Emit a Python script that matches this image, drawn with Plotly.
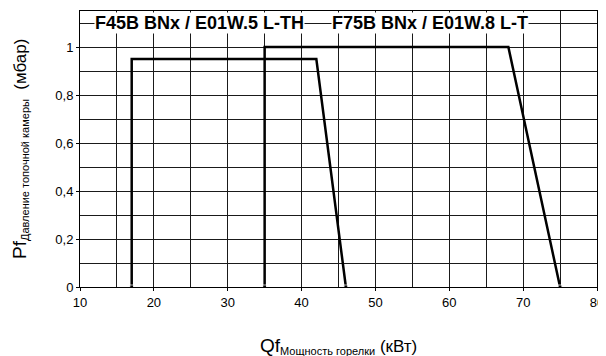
import plotly.graph_objects as go

# Data
s1_name = "F45B BNx / E01W.5 L-TH"
s1_x = [17, 17, 42, 46]
s1_y = [0, 0.95, 0.95, 0]
s2_name = "F75B BNx / E01W.8 L-T"
s2_x = [35, 35, 68, 75]
s2_y = [0, 1.0, 1.0, 0]

fig = go.Figure()
for xs, ys, nm in [(s1_x, s1_y, s1_name), (s2_x, s2_y, s2_name)]:
    fig.add_trace(go.Scatter(
        x=xs, y=ys, mode="lines+markers", name=nm,
        line=dict(color="black", width=2.5),
        marker=dict(symbol="square", color="black", size=[4, 0, 0, 4]),
        showlegend=False,
    ))

font = "Liberation Sans, Arial, sans-serif"
grid = "#1a1a1a"
fig.update_layout(
    width=598, height=348,
    margin=dict(l=72, r=9, t=3, b=69),
    separators=",.",
    paper_bgcolor="white", plot_bgcolor="white",
    font=dict(family=font, color="black", size=13),
    xaxis=dict(
        range=[10, 80], dtick=10, ticks="outside", ticklen=3,
        tickcolor="black", showgrid=True, gridcolor=grid,
        minor=dict(dtick=5, showgrid=True, gridcolor=grid),
        showline=True, linecolor="black", linewidth=1, mirror=True,
        zeroline=False,
    ),
    yaxis=dict(
        range=[0, 1.15], dtick=0.2, ticks="outside",
        ticklen=3, tickcolor="black", showgrid=True, gridcolor=grid,
        minor=dict(dtick=0.1, showgrid=True, gridcolor=grid),
        showline=True, linecolor="black", linewidth=1, mirror=True,
        zeroline=False,
    ),
)

fig.add_annotation(x=26.2, y=1.1, xref="x", yref="y", text="<b>" + s1_name + "</b>",
                   showarrow=False, font=dict(size=18, family=font), bgcolor="white", borderpad=0)
fig.add_annotation(x=57.45, y=1.1, xref="x", yref="y", text="<b>" + s2_name + "</b>",
                   showarrow=False, font=dict(size=18, family=font), bgcolor="white", borderpad=0)

fig.add_annotation(
    xref="paper", yref="paper", x=(20 - 80) / 517, y=0.5, xanchor="center", yanchor="middle",
    textangle=-90, showarrow=False,
    text="<span style='font-size:19px'>Pf</span><sub><span style='font-size:11px'>Давление топочной камеры</span></sub><span style='font-size:17px'>  (мбар)</span>",
)
fig.add_annotation(
    xref="paper", yref="paper", x=0.5, y=(287 - 346) / 276, xanchor="center", yanchor="middle",
    showarrow=False,
    text="<span style='font-size:19px'>Qf</span><sub><span style='font-size:11px'>Мощность горелки</span></sub><span style='font-size:17px'> (кВт)</span>",
)

fig.write_html("out.html")
